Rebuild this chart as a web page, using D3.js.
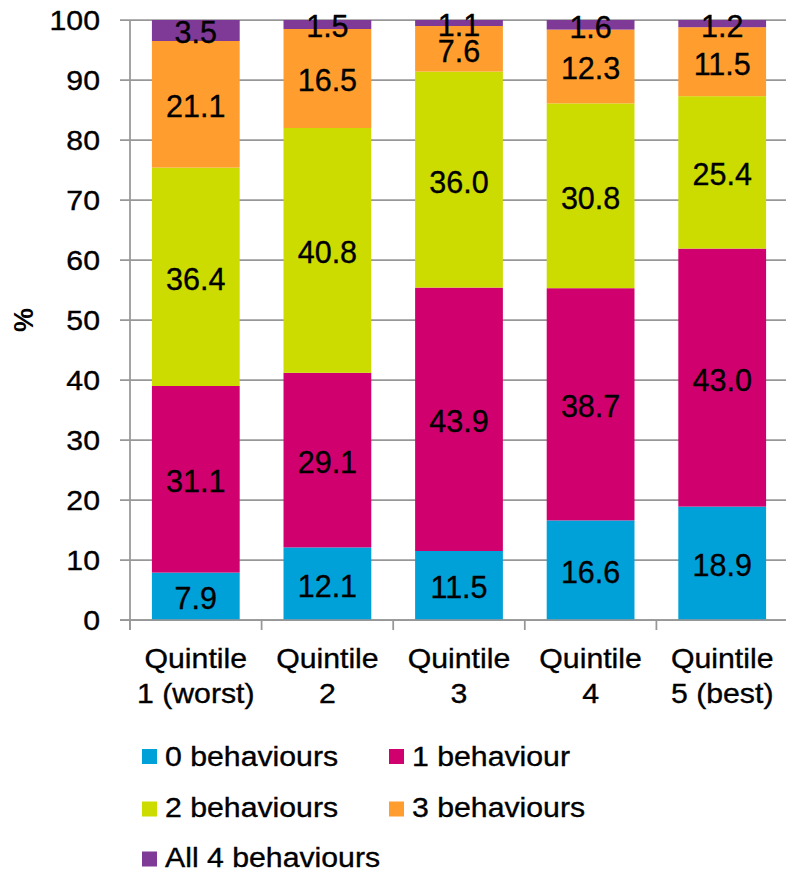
<!DOCTYPE html>
<html>
<head>
<meta charset="utf-8">
<script src="https://cdn.jsdelivr.net/npm/d3@7"></script>
<style>
  html, body { margin: 0; padding: 0; background: #fff; }
  svg { display: block; font-family: "Liberation Sans", Arial, sans-serif; }
</style>
</head>
<body>
<svg id="chart" width="786" height="873"></svg>
<script>
const categories = ["Quintile\n1 (worst)", "Quintile\n2", "Quintile\n3", "Quintile\n4", "Quintile\n5 (best)"];
const seriesNames = ["0 behaviours", "1 behaviour", "2 behaviours", "3 behaviours", "All 4 behaviours"];
const seriesColors = ["#00A0D8", "#D1006F", "#CCDC00", "#FF9E2E", "#7F3A98"];
const zeroBeh  = [7.9, 12.1, 11.5, 16.6, 18.9];
const oneBeh   = [31.1, 29.1, 43.9, 38.7, 43.0];
const twoBeh   = [36.4, 40.8, 36.0, 30.8, 25.4];
const threeBeh = [21.1, 16.5, 7.6, 12.3, 11.5];
const allFour  = [3.5, 1.5, 1.1, 1.6, 1.2];
const yTicks = [0, 10, 20, 30, 40, 50, 60, 70, 80, 90, 100];

(function () {
const seriesValues = [zeroBeh, oneBeh, twoBeh, threeBeh, allFour];
const rows = categories.map((c, i) => {
  const r = { cat: c };
  seriesNames.forEach((s, j) => r[s] = seriesValues[j][i]);
  return r;
});
const stacked = d3.stack().keys(seriesNames)(rows);

const svg = d3.select("#chart");
const pLeft = 130, pRight = 788, pTop = 20, pBottom = 620;
const sx = 1.1; // horizontal stretch of axis/legend text
const axisFont = 27.5;
const textStroke = 0.35;

const x = d3.scaleBand().domain(categories).range([pLeft, pRight]).paddingInner(0.333).paddingOuter(0.1665);
const y = d3.scaleLinear().domain([0, 100]).range([pBottom, pTop]);
const color = d3.scaleOrdinal().domain(seriesNames).range(seriesColors);

const gridColor = "#979797";

function styleText(sel, size) {
  return sel.attr("font-size", size).attr("fill", "#000")
    .attr("stroke", "#000").attr("stroke-width", textStroke);
}

// gridlines + y ticks
svg.append("g").selectAll("line").data(yTicks).join("line")
  .attr("x1", pLeft - 10).attr("x2", pRight)
  .attr("y1", d => y(d)).attr("y2", d => y(d))
  .attr("stroke", gridColor).attr("stroke-width", 1.75);

// y tick labels
styleText(svg.append("g").selectAll("text").data(yTicks).join("text")
  .attr("transform", d => `translate(100,${y(d) + axisFont * 0.36}) scale(${sx},1)`)
  .attr("text-anchor", "end"), axisFont)
  .text(d => d);

// bars
const layer = svg.append("g").selectAll("g").data(stacked).join("g")
  .attr("fill", d => color(d.key));
layer.selectAll("rect").data(d => d).join("rect")
  .attr("x", d => x(d.data.cat))
  .attr("width", x.bandwidth())
  .attr("y", d => y(Math.min(100, d[1])))
  .attr("height", d => y(d[0]) - y(Math.min(100, d[1])));

// bar labels
const labelG = svg.append("g");
stacked.forEach(s => {
  styleText(labelG.selectAll(null).data(s).join("text")
    .attr("x", d => x(d.data.cat) + x.bandwidth() / 2)
    .attr("y", d => (y(d[0]) + y(d[1])) / 2 + 2)
    .attr("dy", "0.36em")
    .attr("text-anchor", "middle"), 30.5)
    .text(d => (d[1] - d[0]).toFixed(1));
});

// axes lines
svg.append("line").attr("x1", pLeft).attr("x2", pLeft).attr("y1", pTop).attr("y2", pBottom + 10)
  .attr("stroke", gridColor).attr("stroke-width", 1.75);
svg.append("line").attr("x1", pLeft - 10).attr("x2", pRight).attr("y1", pBottom).attr("y2", pBottom)
  .attr("stroke", gridColor).attr("stroke-width", 1.75);

// x ticks at category boundaries
const step = x.step();
const boundaries = categories.map(c => x(c) - step * x.paddingInner() / 2).concat([pRight]);
svg.append("g").selectAll("line").data(boundaries).join("line")
  .attr("x1", d => d).attr("x2", d => d)
  .attr("y1", pBottom).attr("y2", pBottom + 10)
  .attr("stroke", gridColor).attr("stroke-width", 1.75);

// x labels
const xl = svg.append("g").selectAll("g").data(categories).join("g");
xl.each(function(c) {
  const lines = c.split("\n");
  const cx = x(c) + x.bandwidth() / 2;
  lines.forEach((ln, k) => {
    styleText(d3.select(this).append("text")
      .attr("transform", `translate(${cx},${668 + k * 35}) scale(${sx},1)`)
      .attr("text-anchor", "middle"), axisFont)
      .text(ln);
  });
});

// y axis title
svg.append("text")
  .attr("transform", "translate(33,320) rotate(-90)")
  .attr("text-anchor", "middle")
  .attr("font-size", 27)
  .attr("font-weight", "bold")
  .attr("fill", "#000")
  .text("%");

// legend
const legendPos = [[142, 749, 765.5], [389, 749, 765.5], [142, 801.5, 816.5], [389, 801.5, 816.5], [142, 851.5, 866.5]];
const lg = svg.append("g").selectAll("g").data(seriesNames).join("g");
lg.append("rect")
  .attr("x", (d, i) => legendPos[i][0]).attr("y", (d, i) => legendPos[i][1])
  .attr("width", 15).attr("height", 15).attr("fill", d => color(d));
styleText(lg.append("text")
  .attr("transform", (d, i) => `translate(${legendPos[i][0] + 23},${legendPos[i][2]}) scale(${sx},1)`), axisFont)
  .text(d => d);
})();
</script>
</body>
</html>
